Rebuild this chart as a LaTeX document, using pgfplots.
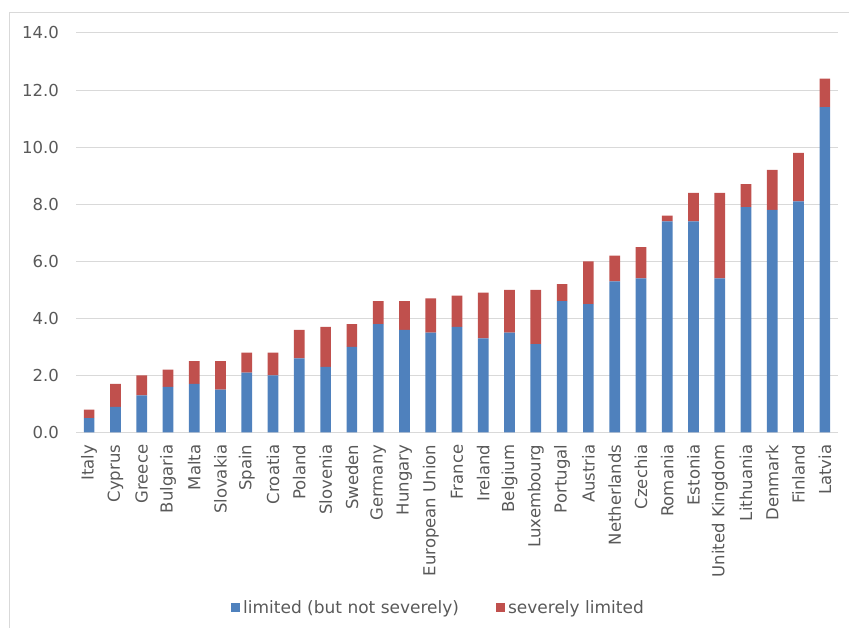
\documentclass[border=0pt]{standalone}
\usepackage{pgfplots}
\pgfplotsset{compat=1.18}
\usepackage{pgfplotstable}
\usepackage{fontspec}
\setmainfont{DejaVu Sans}
\definecolor{cblue}{HTML}{4F81BD}
\definecolor{cred}{HTML}{C0504D}
\definecolor{ctext}{HTML}{595959}
\definecolor{cgrid}{HTML}{D9D9D9}
\pgfplotstableread{
x limited severe
0 0.5 0.3
1 0.9 0.8
2 1.3 0.7
3 1.6 0.6
4 1.7 0.8
5 1.5 1.0
6 2.1 0.7
7 2.0 0.8
8 2.6 1.0
9 2.3 1.4
10 3.0 0.8
11 3.8 0.8
12 3.6 1.0
13 3.5 1.2
14 3.7 1.1
15 3.3 1.6
16 3.5 1.5
17 3.1 1.9
18 4.6 0.6
19 4.5 1.5
20 5.3 0.9
21 5.4 1.1
22 7.4 0.2
23 7.4 1.0
24 5.4 3.0
25 7.9 0.8
26 7.8 1.4
27 8.1 1.7
28 11.4 1.0
}\data
\begin{document}
\begin{tikzpicture}
\useasboundingbox (0pt,0pt) rectangle (849pt,628pt);
\draw[cgrid, line width=0.8pt] (9.5pt,0pt) -- (9.5pt,616pt) -- (849pt,616pt);
\begin{axis}[
  at={(76pt,195.5pt)}, anchor=south west,
  scale only axis, width=762pt, height=399.5pt,
  ybar stacked, bar width=10.7pt,
  xmin=-0.5, xmax=28.5, ymin=0, ymax=14,
  ytick={0,2,...,14},
  xtick={0,...,28},
  xticklabels={Italy,Cyprus,Greece,Bulgaria,Malta,Slovakia,Spain,Croatia,Poland,Slovenia,Sweden,Germany,Hungary,European Union,France,Ireland,Belgium,Luxembourg,Portugal,Austria,Netherlands,Czechia,Romania,Estonia,United Kingdom,Lithuania,Denmark,Finland,Latvia},
  font=\fontsize{16}{19}\selectfont,
  /pgf/number format/assume math mode=true,
  yticklabel style={/pgf/number format/fixed, /pgf/number format/fixed zerofill, /pgf/number format/precision=1},
  yticklabel style={inner sep=0pt, xshift=-17pt, text=ctext, font=\fontsize{16.5}{19}\selectfont},
  xticklabel style={rotate=90, anchor=east, inner sep=0pt, text=ctext, font=\fontsize{16.5}{19}\selectfont},
  xticklabel shift=12pt,
  major tick length=0pt,
  axis line style={draw=none},
  ymajorgrids, grid style={cgrid, line width=1pt},
  legend columns=2,
  legend image code/.code={\fill[#1] (0pt,-4.5pt) rectangle (9pt,4.5pt);},
  legend style={at={(0.2034,-0.438)}, anchor=west, draw=none, fill=none,
    font=\fontsize{17}{20}\selectfont, text=ctext, inner sep=0pt,
    /tikz/every even column/.append style={column sep=34pt},
    nodes={inner xsep=3pt}},
]
\addplot[fill=cblue, draw=none] table[x=x, y=limited] {\data};
\addplot[fill=cred, draw=none] table[x=x, y=severe] {\data};
\legend{limited (but not severely), severely limited}
\end{axis}
\end{tikzpicture}
\end{document}
